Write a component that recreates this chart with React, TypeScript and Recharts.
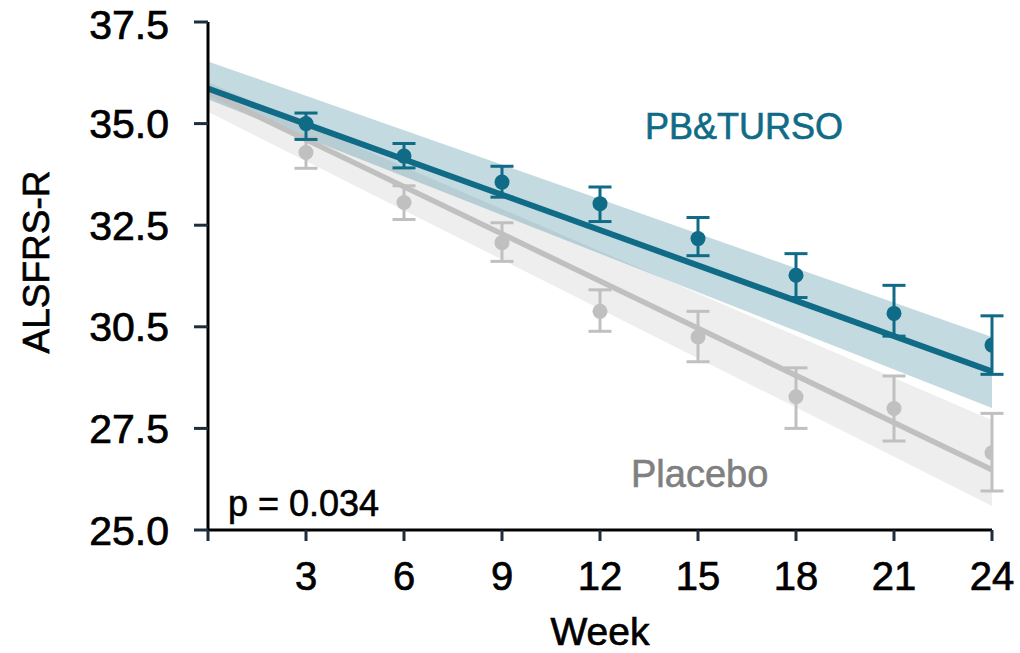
import React from 'react';
import { ComposedChart, XAxis, YAxis, Line, Area, Scatter, ErrorBar, Label } from 'recharts';

// Observed means at each visit
const weeks = [3, 6, 9, 12, 15, 18, 21, 24];
const pbValues = [35.0, 34.2, 33.56, 33.03, 32.17, 31.27, 30.33, 29.55];
const pbErrDown = [0.39, 0.29, 0.37, 0.44, 0.42, 0.55, 0.56, 0.72];
const pbErrUp = [0.26, 0.31, 0.39, 0.41, 0.52, 0.53, 0.69, 0.72];
const plValues = [34.29, 33.06, 32.07, 30.38, 29.75, 28.28, 27.99, 26.9];
const plErrDown = [0.39, 0.42, 0.46, 0.49, 0.61, 0.78, 0.8, 0.94];
const plErrUp = [0.35, 0.41, 0.49, 0.53, 0.63, 0.71, 0.8, 0.97];

// Fitted slopes and bands (end points)
const fitWeeks = [0, 24];
const pbFit = [35.86, 28.9];
const plFit = [35.77, 26.48];
const pbBandLow = [35.6, 28.0];
const pbBandHigh = [36.53, 29.75];
const plBandLow = [35.29, 25.59];
const plBandHigh = [36.02, 27.7];

// Axis ticks
const xTicks = [0, 3, 6, 9, 12, 15, 18, 21, 24];
const xTickLabels = ['', '3', '6', '9', '12', '15', '18', '21', '24'];
const yTicks = [25, 27.5, 30, 32.5, 35, 37.5];
const yTickLabels = ['25.0', '27.5', '30.5', '32.5', '35.0', '37.5'];

const TEAL = '#0f6b86';
const GREY = '#c0c0c0';
const FONT = '"Liberation Sans", Arial, Helvetica, sans-serif';

const pbPoints = weeks.map((w, i) => ({ week: w, value: pbValues[i], err: [pbErrDown[i], pbErrUp[i]] }));
const plPoints = weeks.map((w, i) => ({ week: w, value: plValues[i], err: [plErrDown[i], plErrUp[i]] }));
const pbFitData = fitWeeks.map((w, i) => ({ week: w, value: pbFit[i] }));
const plFitData = fitWeeks.map((w, i) => ({ week: w, value: plFit[i] }));
const pbBandData = fitWeeks.map((w, i) => ({ week: w, range: [pbBandLow[i], pbBandHigh[i]] }));
const plBandData = fitWeeks.map((w, i) => ({ week: w, range: [plBandLow[i], plBandHigh[i]] }));

export default function App() {
  return (
    <div style={{ position: 'absolute', left: 0, top: 0, width: 1020, height: 653, background: '#fff' }}>
      <ComposedChart width={1020} height={653} margin={{ top: 22, right: 28, bottom: 0, left: 0 }}>
        <XAxis
          type="number"
          dataKey="week"
          domain={[0, 24]}
          ticks={xTicks}
          allowDataOverflow
          tickFormatter={(v: number) => xTickLabels[xTicks.indexOf(v)] ?? ''}
          height={123}
          tickSize={11}
          tickMargin={21}
          axisLine={{ stroke: '#000', strokeWidth: 3 }}
          tickLine={{ stroke: '#1e2d3b', strokeWidth: 3 }}
          tick={{ fontSize: 40, fill: '#000', fontFamily: FONT, stroke: '#000', strokeWidth: 0.7 }}
        >
          <Label value="Week" position="insideBottom" offset={8} style={{ fontSize: 39, fill: '#000', fontFamily: FONT, stroke: '#000', strokeWidth: 0.7 }} />
        </XAxis>
        <YAxis
          type="number"
          domain={[25, 37.5]}
          ticks={yTicks}
          allowDataOverflow
          width={208}
          tickFormatter={(v: number) => yTickLabels[yTicks.indexOf(v)] ?? ''}
          tickSize={14}
          tickMargin={25}
          axisLine={{ stroke: '#000', strokeWidth: 3 }}
          tickLine={{ stroke: '#1e2d3b', strokeWidth: 3 }}
          tick={{ fontSize: 41, fill: '#000', fontFamily: FONT, stroke: '#000', strokeWidth: 0.7 }}
        />
        <Area data={plBandData} dataKey="range" type="linear" stroke="none" fill="#bfbfbf" fillOpacity={0.26} isAnimationActive={false} />
        <Area data={pbBandData} dataKey="range" type="linear" stroke="none" fill={TEAL} fillOpacity={0.25} isAnimationActive={false} />
        <Line data={plFitData} dataKey="value" type="linear" stroke={GREY} strokeWidth={5.5} dot={false} isAnimationActive={false} />
        <Line data={pbFitData} dataKey="value" type="linear" stroke={TEAL} strokeWidth={6} dot={false} isAnimationActive={false} />
        <Scatter data={plPoints} dataKey="value" fill={GREY} shape={(p: any) => <circle cx={p.cx} cy={p.cy} r={7.5} fill={GREY} />} isAnimationActive={false}>
          <ErrorBar dataKey="err" direction="y" width={11.5} stroke={GREY} strokeWidth={3} />
        </Scatter>
        <Scatter data={pbPoints} dataKey="value" fill={TEAL} shape={(p: any) => <circle cx={p.cx} cy={p.cy} r={7.5} fill={TEAL} />} isAnimationActive={false}>
          <ErrorBar dataKey="err" direction="y" width={11.5} stroke={TEAL} strokeWidth={3} />
        </Scatter>
      </ComposedChart>
      <svg width={1020} height={653} style={{ position: 'absolute', left: 0, top: 0, pointerEvents: 'none' }}>
        <text x={49} y={262} transform="rotate(-90 49 262)" textAnchor="middle" fontSize={37} fontFamily={FONT} fill="#000" stroke="#000" strokeWidth={0.7}>ALSFRS-R</text>
        <text x={645} y={139} fontSize={36} fontFamily={FONT} fill={TEAL} stroke={TEAL} strokeWidth={0.6}>PB&amp;TURSO</text>
        <text x={631} y={487} fontSize={38} fontFamily={FONT} fill="#808080" stroke="#808080" strokeWidth={0.6}>Placebo</text>
        <text x={228} y={516} fontSize={36} fontFamily={FONT} fill="#000" stroke="#000" strokeWidth={0.6}>p = 0.034</text>
      </svg>
    </div>
  );
}
